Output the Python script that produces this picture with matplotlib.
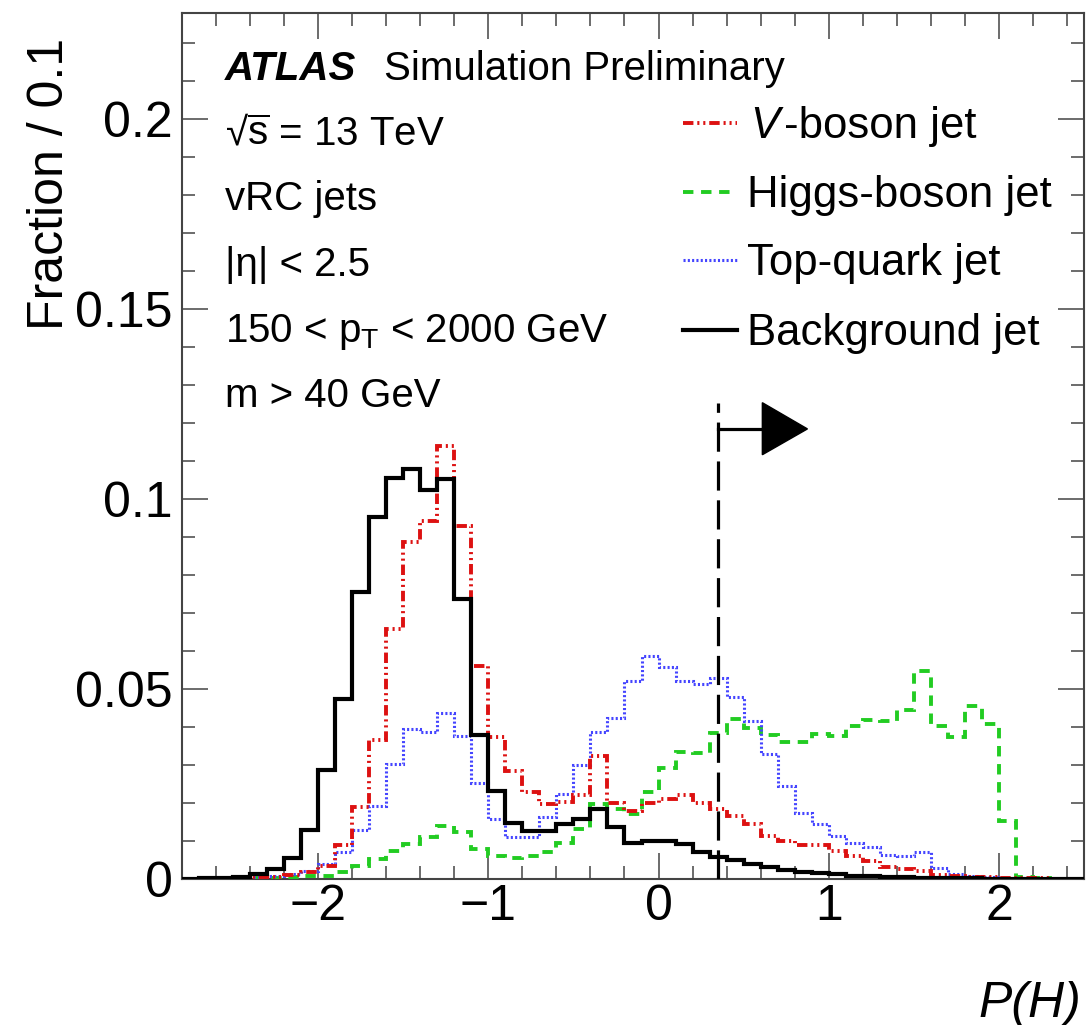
import numpy as np
import matplotlib
matplotlib.use("Agg")
import matplotlib.pyplot as plt
from matplotlib.patches import Polygon
from matplotlib.lines import Line2D

plt.rcParams['font.family'] = ['Liberation Sans', 'DejaVu Sans']
plt.rcParams['mathtext.fontset'] = 'custom'
plt.rcParams['mathtext.rm'] = 'Liberation Sans'
plt.rcParams['mathtext.it'] = 'Liberation Sans:italic'
plt.rcParams['mathtext.bf'] = 'Liberation Sans:bold'
plt.rcParams['lines.scale_dashes'] = False

# ---------------- data ----------------
bin_low = -2.8
bin_width = 0.1
n_bins = 53
edges = bin_low + bin_width * np.arange(n_bins + 1)

background = [0.0001, 0.0002, 0.0002, 0.0004, 0.0013, 0.0026, 0.0054, 0.0130, 0.0288, 0.0474,
              0.0756, 0.0952, 0.1057, 0.1080, 0.1024, 0.1054, 0.0737, 0.0380, 0.0232, 0.0147,
              0.0127, 0.0127, 0.0145, 0.0158, 0.0184, 0.0136, 0.0095, 0.0101, 0.0101, 0.0092,
              0.0070, 0.0059, 0.0051, 0.0039, 0.0031, 0.0025, 0.0019, 0.0015, 0.0012, 0.0009,
              0.0007, 0.0005, 0.0004, 0.0003, 0.0003, 0.0002, 0.0002, 0.0001, 0.0001, 0.0001,
              0.0001, 0.0001, 0.0001]

vboson = [0.0001, 0.0001, 0.0002, 0.0003, 0.0004, 0.0006, 0.0010, 0.0018, 0.0035, 0.0090,
          0.0190, 0.0366, 0.0658, 0.0886, 0.0943, 0.1140, 0.0930, 0.0560, 0.0373, 0.0285,
          0.0228, 0.0197, 0.0202, 0.0221, 0.0325, 0.0200, 0.0180, 0.0200, 0.0210, 0.0220,
          0.0200, 0.0184, 0.0167, 0.0145, 0.0114, 0.0101, 0.0090, 0.0090, 0.0075, 0.0060,
          0.0048, 0.0032, 0.0026, 0.0022, 0.0010, 0.0007, 0.0005, 0.0004, 0.0003, 0.0002,
          0.0002, 0.0001, 0.0001]

higgs = [0.0001, 0.0001, 0.0001, 0.0002, 0.0002, 0.0003, 0.0005, 0.0007, 0.0008, 0.0018,
         0.0035, 0.0053, 0.0073, 0.0092, 0.0110, 0.0140, 0.0123, 0.0079, 0.0061, 0.0054,
         0.0060, 0.0070, 0.0095, 0.0132, 0.0197, 0.0184, 0.0171, 0.0230, 0.0292, 0.0335,
         0.0333, 0.0385, 0.0420, 0.0397, 0.0379, 0.0361, 0.0360, 0.0382, 0.0377, 0.0402,
         0.0419, 0.0417, 0.0445, 0.0548, 0.0402, 0.0373, 0.0456, 0.0408, 0.0154, 0.0004,
         0.0002, 0.0001, 0.0001]

top = [0.0001, 0.0001, 0.0002, 0.0003, 0.0005, 0.0008, 0.0012, 0.0020, 0.0040, 0.0070,
       0.0130, 0.0193, 0.0303, 0.0395, 0.0386, 0.0437, 0.0377, 0.0254, 0.0158, 0.0110,
       0.0110, 0.0162, 0.0224, 0.0301, 0.0386, 0.0425, 0.0522, 0.0588, 0.0557, 0.0522,
       0.0513, 0.0530, 0.0480, 0.0415, 0.0329, 0.0246, 0.0175, 0.0145, 0.0114, 0.0096,
       0.0083, 0.0063, 0.0061, 0.0070, 0.0028, 0.0013, 0.0009, 0.0006, 0.0003, 0.0002,
       0.0001, 0.0001, 0.0001]

labels = ["V-boson jet", "Higgs-boson jet", "Top-quark jet", "Background jet"]
x_ticks = [-2, -1, 0, 1, 2]
y_ticks = [0, 0.05, 0.1, 0.15, 0.2]
cut_value = 0.35
arrow_y = 0.1185
arrow_tip = 0.875
cut_top = 0.1254

# ---------------- styles ----------------
W, H = 1088, 1025
fig = plt.figure(figsize=(W / 100, H / 100), dpi=100)
ax = fig.add_axes([182 / W, 1 - 879 / H, (1084 - 182) / W, (879 - 13) / H])

red = '#dd1111'
green = '#22cc22'
blue = '#4444ff'
styles = [
    dict(color=red, lw=2.8, ls=(0, (7.5, 2.8, 1.5, 2.8, 1.5, 2.8)), zorder=4),
    dict(color=green, lw=2.8, ls=(0, (7.5, 5.5)), zorder=3),
    dict(color=blue, lw=2.2, ls=(0, (1.5, 1.6)), zorder=3.5),
    dict(color='black', lw=3.0, ls='-', zorder=5),
]
series = [vboson, higgs, top, background]
for vals, st in zip(series, styles):
    ax.stairs(vals, edges, baseline=0, fill=False, **st)

ax.set_xlim(-2.8, 2.5)
ax.set_ylim(0, 0.228)

ax.set_xticks(x_ticks)
ax.set_xticklabels([f"{t:g}".replace('-', '\u2212') for t in x_ticks])
ax.set_yticks(y_ticks)
ax.set_yticklabels([f"{t:g}" for t in y_ticks])
ax.set_xticks(np.arange(-2.8, 2.51, 0.2), minor=True)
ax.set_yticks(np.arange(0, 0.2281, 0.01), minor=True)

tick_col = '#444444'
ax.tick_params(which='both', direction='in', top=True, right=True, color=tick_col, width=1.1)
ax.tick_params(which='major', length=18.5)
ax.tick_params(which='minor', length=9.5)
ax.tick_params(axis='x', which='major', labelsize=36, pad=3.5)
ax.tick_params(axis='y', which='major', labelsize=36, pad=6.5)
for sp in ax.spines.values():
    sp.set_linewidth(1.5)
    sp.set_color(tick_col)

# cut line and arrow
ax.plot([cut_value, cut_value], [0, cut_top], color='black', lw=2.3, ls=(0, (21, 7)), zorder=6)
ax.plot([cut_value, 0.61], [arrow_y, arrow_y], color='black', lw=2.3, zorder=6)
ax.add_patch(Polygon([[0.61, 0.1117], [0.61, 0.1254], [arrow_tip, arrow_y]], closed=True,
                     facecolor='black', edgecolor='black', lw=1, zorder=6))

def fx(px):
    return px / W

def fy(py):
    return 1 - py / H

# texts
fs_txt = 29
fig.text(fx(225), fy(80), "ATLAS", fontsize=fs_txt, fontweight='bold', fontstyle='italic', va='baseline')
fig.text(fx(384), fy(80), "Simulation Preliminary", fontsize=fs_txt, va='baseline')
fig.text(fx(225), fy(145), "\u221a$\\overline{\\mathrm{s}}$ = 13 TeV", fontsize=fs_txt, va='baseline')
fig.text(fx(225), fy(210), "vRC jets", fontsize=fs_txt, va='baseline')
fig.text(fx(225), fy(276), "|\u03b7| < 2.5", fontsize=fs_txt, va='baseline')
fig.text(fx(225), fy(342), r"150 < p$_{\mathrm{T}}$ < 2000 GeV", fontsize=fs_txt, va='baseline')
fig.text(fx(225), fy(407), "m > 40 GeV", fontsize=fs_txt, va='baseline')

# legend (manual)
fs_leg = 31.5
leg_base = [138, 207, 275, 345]
for i, (lab, st) in enumerate(zip(labels, styles)):
    yb = leg_base[i]
    yh = yb - 15
    fig.add_artist(Line2D([fx(683), fx(737)], [fy(yh), fy(yh)], transform=fig.transFigure,
                          color=st['color'], lw=st['lw'], ls=st['ls']))
    if i == 0:
        fig.text(fx(750), fy(yb), "V", fontsize=fs_leg, fontstyle='italic', va='baseline')
        fig.text(fx(784), fy(yb), "-boson jet", fontsize=fs_leg, va='baseline')
    else:
        fig.text(fx(747), fy(yb), lab, fontsize=fs_leg, va='baseline')

# axis labels
fig.text(fx(63), fy(38), "Fraction / 0.1", fontsize=36, rotation=90, rotation_mode='anchor',
         ha='right', va='baseline')
fig.text(fx(1081), fy(1017), "P(H)", fontsize=36, fontstyle='italic', ha='right', va='baseline')

fig.savefig("out.png", dpi=100)
